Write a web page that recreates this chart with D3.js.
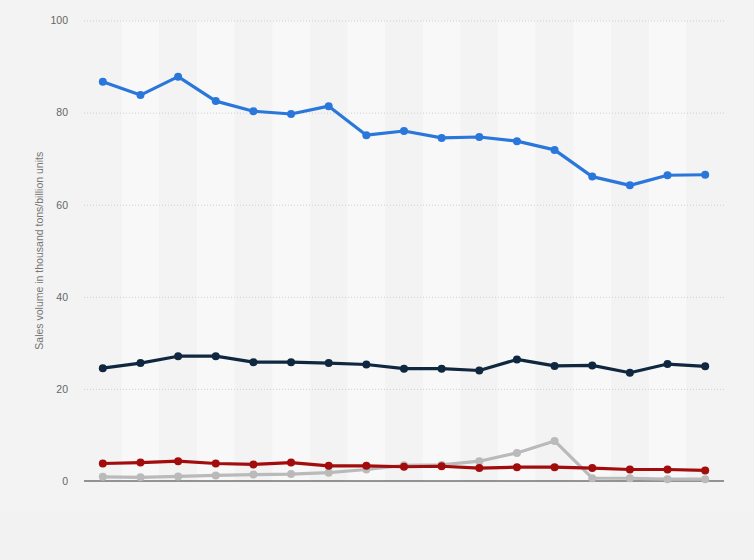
<!DOCTYPE html>
<html>
<head>
<meta charset="utf-8">
<script src="https://cdn.jsdelivr.net/npm/d3@7"></script>
<style>
  html, body { margin: 0; padding: 0; background: #f2f2f2; }
  svg { display: block; font-family: "Liberation Sans", Arial, sans-serif; }
</style>
</head>
<body>
<svg id="chart" width="754" height="560"></svg>
<script>
// 17 periods, no x labels shown in the original
const periods = d3.range(17).map(i => `p${i + 1}`)

const series_blue  = [86.7, 83.8, 87.8, 82.5, 80.3, 79.7, 81.4, 75.1, 76.0, 74.5, 74.7, 73.8, 71.9, 66.1, 64.2, 66.4, 66.5]
const series_navy  = [24.5, 25.6, 27.1, 27.1, 25.8, 25.8, 25.6, 25.3, 24.4, 24.4, 24.0, 26.4, 25.0, 25.1, 23.5, 25.4, 24.9]
const series_red   = [3.8, 4.0, 4.3, 3.8, 3.6, 4.0, 3.3, 3.3, 3.1, 3.2, 2.8, 3.0, 3.0, 2.8, 2.5, 2.5, 2.3]
const series_gray  = [0.9, 0.8, 1.0, 1.2, 1.4, 1.5, 1.8, 2.5, 3.4, 3.5, 4.3, 6.1, 8.7, 0.6, 0.6, 0.4, 0.4]

const y_ticks = [0, 20, 40, 60, 80, 100]
const y_title = 'Sales volume in thousand tons/billion units'

const svg = d3.select('#chart')

/* 画布参数 */
const plot_left = 84, plot_right = 724, plot_top = 20.5, plot_bottom = 481

svg.append('rect')
    .attr('width', 754).attr('height', 560)
    .attr('fill', '#f2f2f2')

svg.append('rect')
    .attr('x', 0).attr('y', 0)
    .attr('width', 754).attr('height', 512)
    .attr('fill', '#f3f3f3')

const x = d3.scaleBand()
    .domain(periods)
    .range([plot_left, plot_right])

const y = d3.scaleLinear()
    .domain([0, 100])
    .range([plot_bottom, plot_top])

/* 竖条纹 */
svg.append('g')
    .selectAll('rect')
    .data(periods)
    .join('rect')
    .attr('x', d => x(d))
    .attr('y', plot_top)
    .attr('width', x.bandwidth())
    .attr('height', plot_bottom - plot_top)
    .attr('fill', (d, i) => i % 2 ? '#f8f8f8' : '#f3f3f3')

/* 横向网格线 + 刻度 */
const yAxis = svg.append('g')
    .attr('transform', `translate(${plot_left},0)`)
    .call(d3.axisLeft(y).tickValues(y_ticks).tickSize(-(plot_right - plot_left)).tickPadding(16))

yAxis.select('.domain').remove()
yAxis.selectAll('.tick line')
    .attr('stroke', d => d === 0 ? 'none' : '#cfcfcf')
    .attr('stroke-dasharray', '1,2')
yAxis.selectAll('.tick text')
    .attr('fill', '#666')
    .style('font-size', '10.5px')

/* 零线 */
svg.append('line')
    .attr('x1', plot_left).attr('x2', plot_right)
    .attr('y1', y(0)).attr('y2', y(0))
    .attr('stroke', '#333')
    .attr('stroke-width', 1)

svg.append('text')
    .attr('transform', `translate(43,${(plot_top + plot_bottom) / 2}) rotate(-90)`)
    .attr('text-anchor', 'middle')
    .attr('fill', '#777')
    .style('font-size', '10.5px')
    .text(y_title)

/* 折线 */
const lines = [
    {values: series_gray, color: '#bababa'},
    {values: series_red,  color: '#a30c0c'},
    {values: series_navy, color: '#10283f'},
    {values: series_blue, color: '#2a77dc'}
]

const line = d3.line()
    .x((d, i) => x(periods[i]) + x.bandwidth() / 2)
    .y(d => y(d))

lines.forEach(s => {
    const g = svg.append('g')
    g.append('path')
        .datum(s.values)
        .attr('d', line)
        .attr('fill', 'none')
        .attr('stroke', s.color)
        .attr('stroke-width', 3.2)
        .attr('stroke-linejoin', 'round')
    g.selectAll('circle')
        .data(s.values)
        .join('circle')
        .attr('cx', (d, i) => x(periods[i]) + x.bandwidth() / 2)
        .attr('cy', d => y(d))
        .attr('r', 4)
        .attr('fill', s.color)
})
</script>
</body>
</html>
